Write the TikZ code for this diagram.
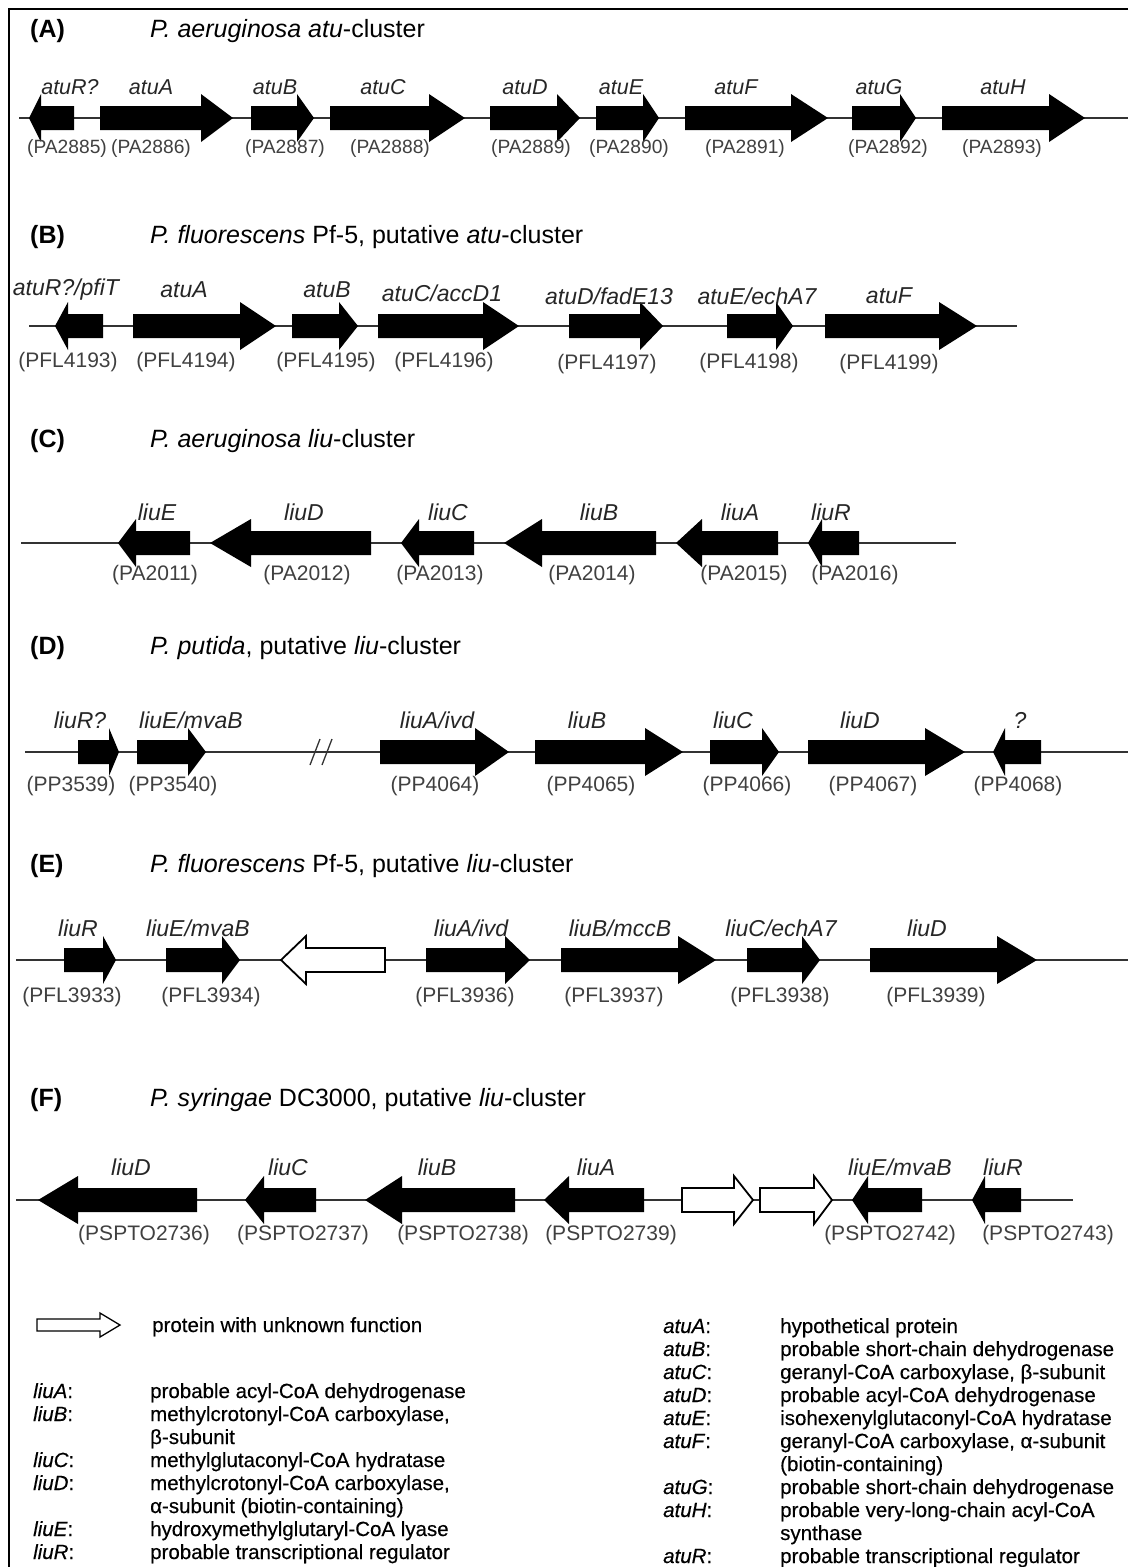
\documentclass[tikz,border=0pt]{standalone}
\usepackage{fontspec}
\setmainfont{Liberation Sans}
\newfontfamily\lgfont[FakeBold=0.35]{Liberation Sans}
\newcommand\gfwd[5][gene]{\path[#1] (#2,#5-12) -- (#3,#5-12) -- (#3,#5-24) -- (#4,#5) -- (#3,#5+24) -- (#3,#5+12) -- (#2,#5+12) -- cycle;}
\newcommand\grev[5][gene]{\path[#1] (#2,#5) -- (#3,#5-24) -- (#3,#5-12) -- (#4,#5-12) -- (#4,#5+12) -- (#3,#5+12) -- (#3,#5+24) -- cycle;}
\begin{document}
\begin{tikzpicture}[x=1pt,y=-1pt,
  gl/.style={font=\fontsize{23}{25}\selectfont\itshape, text=black!85, inner sep=0pt},
  glA/.style={font=\fontsize{21.5}{24}\selectfont\itshape, text=black!85, inner sep=0pt},
  idl/.style={font=\fontsize{21}{23}\selectfont, text=black!75, inner sep=0pt},
  idlA/.style={font=\fontsize{19.2}{21}\selectfont, text=black!75, inner sep=0pt},
  ttl/.style={font=\fontsize{25}{29}\selectfont, anchor=west, inner sep=0pt},
  lab/.style={font=\fontsize{25}{29}\selectfont\bfseries, anchor=west, inner sep=0pt},
  lg/.style={font=\lgfont\fontsize{20.5}{22}\selectfont, anchor=base west, inner sep=0pt},
  bb/.style={line width=1.3pt, black!80},
  gene/.style={fill=black},
  unk/.style={fill=white, draw=black, line width=1.8pt},
  brk/.style={line width=1.3pt, black!80}]
\useasboundingbox (0,0) rectangle (1128,1567);
\fill[white] (0,0) rectangle (1128,1567);
\draw[line width=1.2pt] (1128,9) -- (9,9) -- (9,1567);

% ---------------- (A)
\node[lab] (tA) at (30,31) {(A)};
\node[ttl] (hA) at (150,31) {\textit{P. aeruginosa atu}-cluster};
\draw[bb] (19,118) -- (1128,118);
\grev{29}{41}{74}{118}
\gfwd{100}{201}{233}{118}
\gfwd{251}{297}{314}{118}
\gfwd{330}{429}{465}{118}
\gfwd{490}{557}{580}{118}
\gfwd{596}{643}{659}{118}
\gfwd{685}{791}{828}{118}
\gfwd{852}{900}{916}{118}
\gfwd{942}{1049}{1085}{118}
\node[glA] (a1) at (70,87) {atuR?};
\node[glA] (a2) at (151,87) {atuA};
\node[glA] (a3) at (275,87) {atuB};
\node[glA] (a4) at (383,87) {atuC};
\node[glA] (a5) at (525,87) {atuD};
\node[glA] (a6) at (621,87) {atuE};
\node[glA] (a7) at (736,87) {atuF};
\node[glA] (a8) at (879,87) {atuG};
\node[glA] (a9) at (1003,87) {atuH};
\node[idlA] (ai1) at (67,149) {(PA2885)};
\node[idlA] (ai2) at (151,149) {(PA2886)};
\node[idlA] (ai3) at (285,149) {(PA2887)};
\node[idlA] (ai4) at (390,149) {(PA2888)};
\node[idlA] (ai5) at (531,149) {(PA2889)};
\node[idlA] (ai6) at (629,149) {(PA2890)};
\node[idlA] (ai7) at (745,149) {(PA2891)};
\node[idlA] (ai8) at (888,149) {(PA2892)};
\node[idlA] (ai9) at (1002,149) {(PA2893)};

% ---------------- (B)
\node[lab] (tB) at (30,237) {(B)};
\node[ttl] (hB) at (150,237) {\textit{P. fluorescens} Pf-5, putative \textit{atu}-cluster};
\draw[bb] (29,326) -- (1017,326);
\grev{55}{68}{103}{326}
\gfwd{133}{240}{276}{326}
\gfwd{292}{339}{358}{326}
\gfwd{378}{483}{519}{326}
\gfwd{569}{640}{663}{326}
\gfwd{727}{776}{793}{326}
\gfwd{825}{939}{977}{326}
\node[gl] (b1) at (66,290) {atuR?/pfiT};
\node[gl] (b2) at (184,290) {atuA};
\node[gl] (b3) at (327,290) {atuB};
\node[gl] (b4) at (442,293) {atuC/accD1};
\node[gl] (b5) at (609,296) {atuD/fadE13};
\node[gl] (b6) at (757,296) {atuE/echA7};
\node[gl] (b7) at (889,296) {atuF};
\node[idl] (bi1) at (68,362) {(PFL4193)};
\node[idl] (bi2) at (186,362) {(PFL4194)};
\node[idl] (bi3) at (326,362) {(PFL4195)};
\node[idl] (bi4) at (444,362) {(PFL4196)};
\node[idl] (bi5) at (607,364) {(PFL4197)};
\node[idl] (bi6) at (749,363) {(PFL4198)};
\node[idl] (bi7) at (889,364) {(PFL4199)};

% ---------------- (C)
\node[lab] (tC) at (30,441) {(C)};
\node[ttl] (hC) at (150,441) {\textit{P. aeruginosa liu}-cluster};
\draw[bb] (21,543) -- (956,543);
\grev{118}{136}{190}{543}
\grev{210}{251}{371}{543}
\grev{401}{419}{474}{543}
\grev{504}{542}{656}{543}
\grev{676}{702}{778}{543}
\grev{808}{822}{859}{543}
\node[gl] (c1) at (157,512) {liuE};
\node[gl] (c2) at (304,512) {liuD};
\node[gl] (c3) at (448,512) {liuC};
\node[gl] (c4) at (599,512) {liuB};
\node[gl] (c5) at (740,512) {liuA};
\node[gl] (c6) at (831,512) {liuR};
\node[idl] (ci1) at (155,575) {(PA2011)};
\node[idl] (ci2) at (307,575) {(PA2012)};
\node[idl] (ci3) at (440,575) {(PA2013)};
\node[idl] (ci4) at (592,575) {(PA2014)};
\node[idl] (ci5) at (744,575) {(PA2015)};
\node[idl] (ci6) at (855,575) {(PA2016)};

% ---------------- (D)
\node[lab] (tD) at (30,648) {(D)};
\node[ttl] (hD) at (150,648) {\textit{P. putida}, putative \textit{liu}-cluster};
\draw[bb] (25,752) -- (1128,752);
\draw[brk] (310,765) -- (320,739);
\draw[brk] (322,765) -- (332,739);
\gfwd{78}{109}{119}{752}
\gfwd{137}{188}{206}{752}
\gfwd{380}{475}{509}{752}
\gfwd{535}{645}{683}{752}
\gfwd{710}{762}{779}{752}
\gfwd{808}{925}{965}{752}
\grev{993}{1005}{1041}{752}
\node[gl] (d1) at (80,720) {liuR?};
\node[gl] (d2) at (191,720) {liuE/mvaB};
\node[gl] (d3) at (437,720) {liuA/ivd};
\node[gl] (d4) at (587,720) {liuB};
\node[gl] (d5) at (733,720) {liuC};
\node[gl] (d6) at (860,720) {liuD};
\node[gl] (d7) at (1020,720) {?};
\node[idl] (di1) at (71,786) {(PP3539)};
\node[idl] (di2) at (173,786) {(PP3540)};
\node[idl] (di3) at (435,786) {(PP4064)};
\node[idl] (di4) at (591,786) {(PP4065)};
\node[idl] (di5) at (747,786) {(PP4066)};
\node[idl] (di6) at (873,786) {(PP4067)};
\node[idl] (di7) at (1018,786) {(PP4068)};

% ---------------- (E)
\node[lab] (tE) at (30,866) {(E)};
\node[ttl] (hE) at (150,866) {\textit{P. fluorescens} Pf-5, putative \textit{liu}-cluster};
\draw[bb] (16,960) -- (1128,960);
\gfwd{64}{103}{116}{960}
\gfwd{166}{222}{240}{960}
\grev[unk]{281}{306}{385}{960}
\gfwd{426}{505}{530}{960}
\gfwd{561}{678}{716}{960}
\gfwd{747}{802}{820}{960}
\gfwd{870}{997}{1037}{960}
\node[gl] (e1) at (78,928) {liuR};
\node[gl] (e2) at (198,928) {liuE/mvaB};
\node[gl] (e3) at (471,928) {liuA/ivd};
\node[gl] (e4) at (620,928) {liuB/mccB};
\node[gl] (e5) at (781,928) {liuC/echA7};
\node[gl] (e6) at (927,928) {liuD};
\node[idl] (ei1) at (72,997) {(PFL3933)};
\node[idl] (ei2) at (211,997) {(PFL3934)};
\node[idl] (ei3) at (465,997) {(PFL3936)};
\node[idl] (ei4) at (614,997) {(PFL3937)};
\node[idl] (ei5) at (780,997) {(PFL3938)};
\node[idl] (ei6) at (936,997) {(PFL3939)};

% ---------------- (F)
\node[lab] (tF) at (30,1100) {(F)};
\node[ttl] (hF) at (150,1100) {\textit{P. syringae} DC3000, putative \textit{liu}-cluster};
\draw[bb] (16,1200) -- (1073,1200);
\grev{38}{78}{197}{1200}
\grev{245}{264}{316}{1200}
\grev{365}{402}{515}{1200}
\grev{544}{569}{644}{1200}
\gfwd[unk]{682}{734}{753}{1200}
\gfwd[unk]{760}{814}{832}{1200}
\grev{852}{868}{922}{1200}
\grev{972}{985}{1021}{1200}
\node[gl] (f1) at (131,1167) {liuD};
\node[gl] (f2) at (288,1167) {liuC};
\node[gl] (f3) at (437,1167) {liuB};
\node[gl] (f4) at (596,1167) {liuA};
\node[gl] (f5) at (900,1167) {liuE/mvaB};
\node[gl] (f6) at (1003,1167) {liuR};
\node[idl] (fi1) at (144,1235) {(PSPTO2736)};
\node[idl] (fi2) at (303,1235) {(PSPTO2737)};
\node[idl] (fi3) at (463,1235) {(PSPTO2738)};
\node[idl] (fi4) at (611,1235) {(PSPTO2739)};
\node[idl] (fi5) at (890,1235) {(PSPTO2742)};
\node[idl] (fi6) at (1048,1235) {(PSPTO2743)};

% ---------------- legend
\path[unk, line width=1.3pt] (37,1319) -- (100,1319) -- (100,1313) -- (120,1325) -- (100,1337) -- (100,1331) -- (37,1331) -- cycle;
\node[lg] (lu) at (152,1332) {protein with unknown function};

\node[lg] (ln1) at (33,1398) {\textit{liuA}:};
\node[lg] (ld1) at (150,1398) {probable acyl-CoA dehydrogenase};
\node[lg] (ln2) at (33,1421) {\textit{liuB}:};
\node[lg] (ld2) at (150,1421) {methylcrotonyl-CoA carboxylase,};
\node[lg] (ld2b) at (150,1444) {β-subunit};
\node[lg] (ln3) at (33,1467) {\textit{liuC}:};
\node[lg] (ld3) at (150,1467) {methylglutaconyl-CoA hydratase};
\node[lg] (ln4) at (33,1490) {\textit{liuD}:};
\node[lg] (ld4) at (150,1490) {methylcrotonyl-CoA carboxylase,};
\node[lg] (ld4b) at (150,1513) {α-subunit (biotin-containing)};
\node[lg] (ln5) at (33,1536) {\textit{liuE}:};
\node[lg] (ld5) at (150,1536) {hydroxymethylglutaryl-CoA lyase};
\node[lg] (ln6) at (33,1559) {\textit{liuR}:};
\node[lg] (ld6) at (150,1559) {probable transcriptional regulator};

\node[lg] (rn1) at (663,1333) {\textit{atuA}:};
\node[lg] (rd1) at (780,1333) {hypothetical protein};
\node[lg] (rn2) at (663,1356) {\textit{atuB}:};
\node[lg] (rd2) at (780,1356) {probable short-chain dehydrogenase};
\node[lg] (rn3) at (663,1379) {\textit{atuC}:};
\node[lg] (rd3) at (780,1379) {geranyl-CoA carboxylase, β-subunit};
\node[lg] (rn4) at (663,1402) {\textit{atuD}:};
\node[lg] (rd4) at (780,1402) {probable acyl-CoA dehydrogenase};
\node[lg] (rn5) at (663,1425) {\textit{atuE}:};
\node[lg] (rd5) at (780,1425) {isohexenylglutaconyl-CoA hydratase};
\node[lg] (rn6) at (663,1448) {\textit{atuF}:};
\node[lg] (rd6) at (780,1448) {geranyl-CoA carboxylase, α-subunit};
\node[lg] (rd6b) at (780,1471) {(biotin-containing)};
\node[lg] (rn7) at (663,1494) {\textit{atuG}:};
\node[lg] (rd7) at (780,1494) {probable short-chain dehydrogenase};
\node[lg] (rn8) at (663,1517) {\textit{atuH}:};
\node[lg] (rd8) at (780,1517) {probable very-long-chain acyl-CoA};
\node[lg] (rd8b) at (780,1540) {synthase};
\node[lg] (rn9) at (663,1563) {\textit{atuR}:};
\node[lg] (rd9) at (780,1563) {probable transcriptional regulator};
\end{tikzpicture}
\end{document}
